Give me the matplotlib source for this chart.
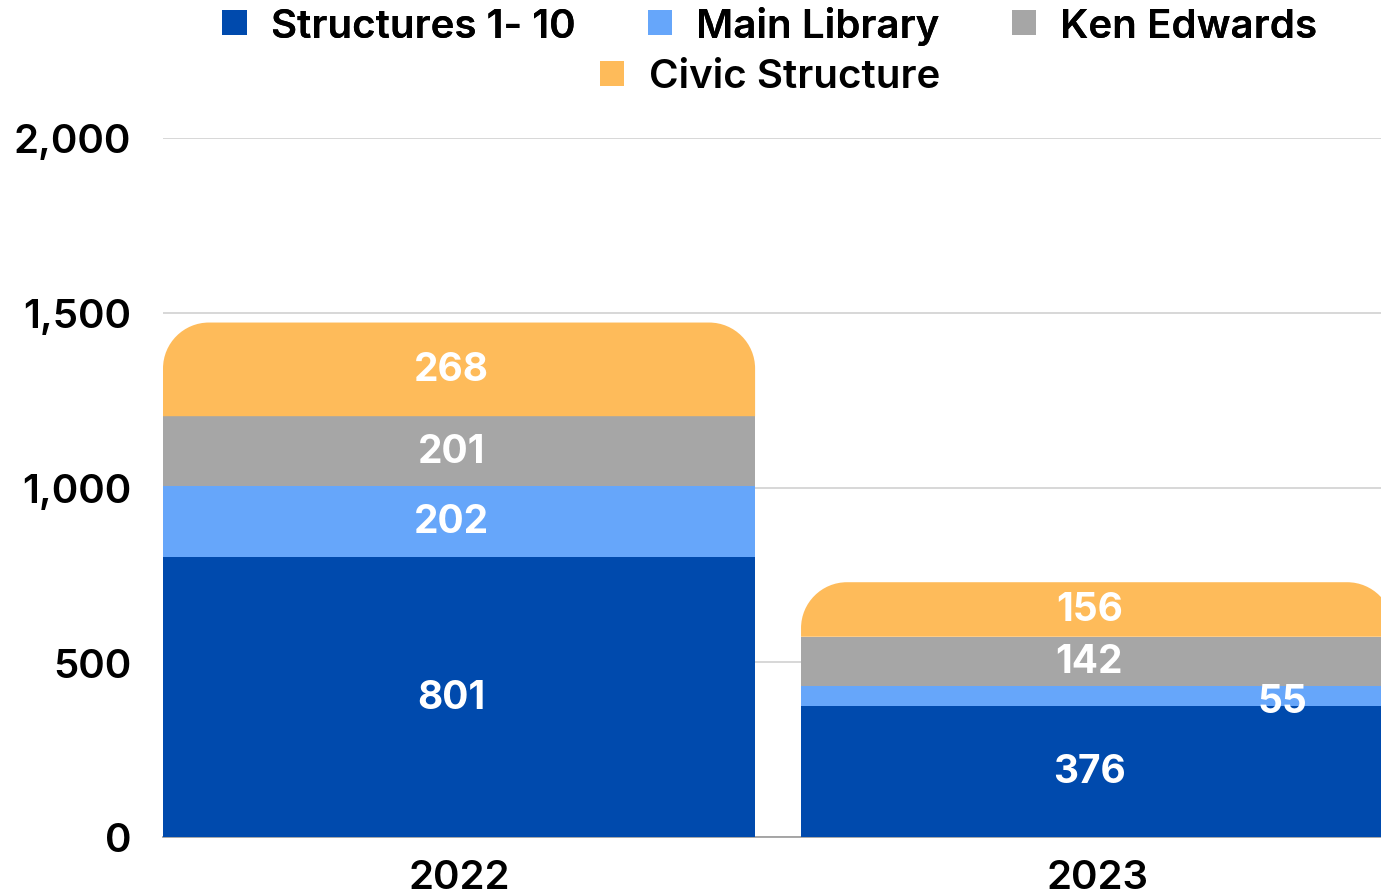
import matplotlib
matplotlib.use("Agg")
import matplotlib.pyplot as plt
from matplotlib.path import Path
from matplotlib.patches import PathPatch, Patch
import numpy as np

years = ["2022", "2023"]
series = ["Structures 1- 10", "Main Library", "Ken Edwards", "Civic Structure"]
structures = [801, 376]
main_library = [202, 55]
ken_edwards = [201, 142]
civic = [268, 156]
colors = ["#004AAD", "#66A6FA", "#A6A6A6", "#FEBB5A"]
y_ticks = [0, 500, 1000, 1500, 2000]
y_ticklabels = ["0", "500", "1,000", "1,500", "2,000"]

plt.rcParams['font.family'] = ['Inter', 'DejaVu Sans']

W, H = 1381, 895
fig = plt.figure(figsize=(W / 100, H / 100), dpi=100)
ax_left = 163 / W
ax_bottom = (H - 838) / H
ax_height = (838 - 139) / H
ax = fig.add_axes([ax_left, ax_bottom, 1 - ax_left, ax_height])

x = np.arange(len(years))
width = 0.928
ax.set_xlim(-0.464, 1.445)
ax.set_ylim(0, 2000)

px_x = (1.445 + 0.464) / (W - 163)
px_y = 2000 / (838 - 139)
rpx = 46
rx, ry = rpx * px_x, rpx * px_y

data = [structures, main_library, ken_edwards, civic]
bottoms = np.zeros(len(years))
k = 0.5523
for si, vals in enumerate(data):
    vals = np.array(vals, dtype=float)
    if si < len(data) - 1:
        ax.bar(x, vals, width, bottom=bottoms, color=colors[si], zorder=2, linewidth=0)
    else:
        for i in range(len(years)):
            x0 = x[i] - width / 2
            x1 = x[i] + width / 2
            y0 = bottoms[i]
            y1 = bottoms[i] + vals[i]
            verts = [
                (x0, y0),
                (x0, y1 - ry),
                (x0, y1 - ry + k * ry), (x0 + rx - k * rx, y1), (x0 + rx, y1),
                (x1 - rx, y1),
                (x1 - rx + k * rx, y1), (x1, y1 - ry + k * ry), (x1, y1 - ry),
                (x1, y0),
                (x0, y0),
            ]
            codes = [Path.MOVETO, Path.LINETO,
                     Path.CURVE4, Path.CURVE4, Path.CURVE4,
                     Path.LINETO,
                     Path.CURVE4, Path.CURVE4, Path.CURVE4,
                     Path.LINETO, Path.CLOSEPOLY]
            ax.add_patch(PathPatch(Path(verts, codes), facecolor=colors[si],
                                   edgecolor="none", zorder=2))
    for i in range(len(years)):
        cy = bottoms[i] + vals[i] / 2
        cx = x[i] - 0.012
        if vals[i] < 80:
            cx = x[i] + 0.29
            cy -= 15
        ax.text(cx, cy, f"{int(vals[i])}", ha="center", va="center",
                color="white", fontsize=28, fontweight="bold", zorder=4)
    bottoms = bottoms + vals

ax.set_yticks(y_ticks)
ax.set_yticklabels(y_ticklabels, fontsize=29, fontweight="semibold")
ax.set_xticks(x)
ax.set_xticklabels(years, fontsize=29, fontweight="semibold")
ax.tick_params(axis="both", length=0)
ax.tick_params(axis="y", pad=23)
ax.tick_params(axis="x", pad=16)
ax.yaxis.grid(True, color="#D4D4D4", linewidth=1.3, zorder=0)
ax.set_axisbelow(True)
for s in ["top", "right", "left"]:
    ax.spines[s].set_visible(False)
ax.spines["bottom"].set_color("#A0A0A0")
ax.spines["bottom"].set_linewidth(1.3)
ax.spines["bottom"].set_zorder(1)

handles = [Patch(facecolor=c, edgecolor="none") for c in colors]
leg1 = fig.legend(handles[:3], series[:3], loc="center", bbox_to_anchor=(770 / W, 1 - 26 / H),
                  ncol=3, frameon=False, prop={"weight": "semibold", "size": 29},
                  handlelength=0.6, handleheight=0.6, handletextpad=0.6, columnspacing=1.8,
                  borderaxespad=0)
fig.add_artist(leg1)
leg2 = fig.legend(handles[3:], series[3:], loc="center", bbox_to_anchor=(770 / W, 1 - 78 / H),
                  ncol=1, frameon=False, prop={"weight": "semibold", "size": 29},
                  handlelength=0.6, handleheight=0.6, handletextpad=0.6, borderaxespad=0)

fig.savefig("out.png", dpi=100)
